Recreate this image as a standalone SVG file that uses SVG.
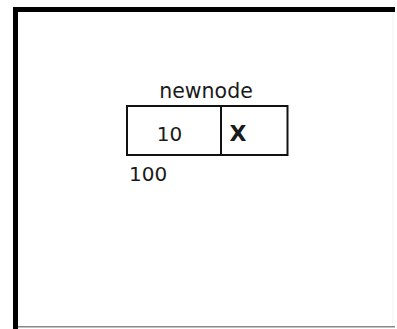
<svg xmlns="http://www.w3.org/2000/svg" width="397" height="329" viewBox="0 0 397 329">
<style>
.lbl{font-family:"DejaVu Sans",Verdana,sans-serif;fill:#1a1a1a}
.cell{fill:#fff;stroke:#111;stroke-width:2}
</style>
<rect width="397" height="329" fill="#fff"/>
<g id="frame">
<rect x="13" y="7" width="5" height="322" fill="#000"/>
<rect x="13" y="7" width="382" height="5" fill="#000"/>
<rect x="18" y="326" width="377" height="1.5" fill="#888"/>
<rect x="392.5" y="12" width="1" height="314" fill="#f2f2f2"/>
</g>
<g id="newnode">
<text class="lbl" x="206" y="97.5" font-size="20.5" text-anchor="middle">newnode</text>
<rect class="cell" x="127" y="106" width="94" height="49"/>
<rect class="cell" x="221" y="106" width="66.5" height="49"/>
<text class="lbl" x="169.5" y="141" font-size="20" text-anchor="middle">10</text>
<text class="lbl" x="238" y="141" font-size="22" font-weight="bold" text-anchor="middle">X</text>
<text class="lbl" x="129" y="180.5" font-size="20">100</text>
</g>
</svg>
